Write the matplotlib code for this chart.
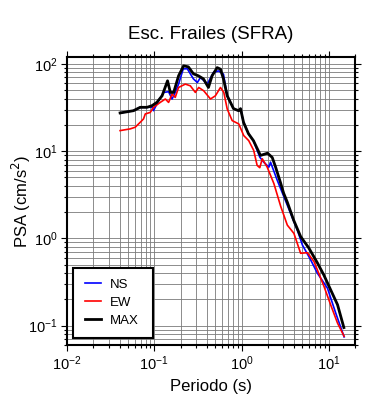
import matplotlib
matplotlib.use('Agg')
import matplotlib.pyplot as plt
from matplotlib.ticker import LogLocator, NullFormatter

plt.rcParams['font.family'] = ['Liberation Sans', 'DejaVu Sans']

# MAX (black)
per_max = [0.0406, 0.0578, 0.069, 0.0824, 0.0942, 0.107, 0.123, 0.142, 0.153, 0.167,
           0.190, 0.217, 0.246, 0.281, 0.321, 0.366, 0.418, 0.46, 0.526, 0.574,
           0.621, 0.686, 0.81, 0.925, 0.975, 1.055, 1.20, 1.37, 1.65, 1.99,
           2.25, 2.46, 2.81, 3.04, 3.35, 3.96, 4.76, 5.89, 7.41, 8.77,
           10.5, 12.6, 14.9]
psa_max = [27.4, 29.1, 31.8, 31.8, 33.2, 36.2, 43.1, 64.0, 47.1, 47.1,
           73.0, 95.0, 92.5, 77.0, 73.0, 67.4, 53.7, 73.0, 90.7, 87.0,
           67.4, 43.1, 30.7, 29.1, 30.7, 21.4, 15.9, 13.2, 8.93, 9.48,
           8.47, 6.56, 4.3, 3.3, 2.6, 1.62, 1.05, 0.78, 0.524, 0.382,
           0.258, 0.174, 0.095]

# NS (blue)
per_ns = [0.0406, 0.0578, 0.069, 0.0824, 0.0942, 0.098, 0.112, 0.128, 0.146, 0.160,
          0.174, 0.190, 0.215, 0.239, 0.281, 0.312, 0.338, 0.406, 0.476, 0.545,
          0.621, 0.686, 0.81, 0.925, 0.975, 1.055, 1.20, 1.37, 1.62, 1.80,
          2.06, 2.15, 2.57, 3.35, 4.37, 4.99, 6.21, 7.41, 9.66, 12.0,
          15.0]
psa_ns = [27.4, 29.1, 31.8, 31.8, 32.0, 29.1, 37.8, 47.1, 48.0, 39.6,
          47.1, 58.7, 87.7, 88.0, 67.4, 61.2, 69.8, 59.1, 79.6, 83.2,
          76.3, 43.1, 30.7, 29.1, 30.7, 21.4, 15.9, 13.2, 8.53, 7.48,
          6.56, 7.48, 4.63, 2.4, 1.24, 0.84, 0.566, 0.399, 0.269, 0.140,
          0.0743]

# EW (red)
per_ew = [0.0406, 0.053, 0.0605, 0.069, 0.0753, 0.0789, 0.09, 0.098, 0.117, 0.134,
          0.146, 0.160, 0.174, 0.190, 0.227, 0.259, 0.296, 0.323, 0.369, 0.441,
          0.502, 0.574, 0.627, 0.686, 0.782, 0.931, 1.06, 1.21, 1.38, 1.51,
          1.62, 1.73, 1.97, 2.35, 2.81, 3.35, 3.99, 4.76, 5.69, 6.78,
          8.83, 10.5, 12.6, 15.0]
psa_ew = [17.2, 18.0, 18.8, 21.4, 23.4, 26.7, 27.8, 31.8, 36.2, 39.6,
          36.2, 45.1, 41.3, 53.7, 58.7, 56.1, 47.1, 53.7, 49.2, 39.6,
          43.1, 53.7, 47.1, 30.4, 22.4, 20.5, 15.1, 13.2, 10.2, 6.87,
          6.46, 8.18, 6.56, 4.25, 2.34, 1.42, 1.14, 0.675, 0.686, 0.542,
          0.281, 0.174, 0.107, 0.0755]

fig = plt.figure(figsize=(3.9, 4.0), dpi=100)
ax = fig.add_axes([0.1718, 0.1375, 0.7385, 0.72])

ax.plot(per_ns, psa_ns, color='blue', lw=1.2, label='NS')
ax.plot(per_ew, psa_ew, color='red', lw=1.2, label='EW')
ax.plot(per_max, psa_max, color='black', lw=2.0, label='MAX')

ax.set_xscale('log')
ax.set_yscale('log')
ax.set_xlim(0.01, 20)
ax.set_ylim(0.06, 120)

for axis in (ax.xaxis, ax.yaxis):
    axis.set_major_locator(LogLocator(base=10, numticks=10))
    axis.set_minor_locator(LogLocator(base=10, subs=range(2, 10), numticks=20))
    axis.set_minor_formatter(NullFormatter())

ax.grid(True, which='both', color='#7a7a7a', lw=0.6)
ax.set_axisbelow(True)
ax.tick_params(which='both', direction='out', top=True, right=True, width=0.8)
ax.tick_params(which='major', length=4, labelsize=10.5, pad=3)
ax.tick_params(which='minor', length=2.2)
for s in ax.spines.values():
    s.set_linewidth(1.5)

ax.set_xlabel('Periodo (s)', fontsize=12, labelpad=4)
ax.set_ylabel('PSA (cm/s$^2$)', fontsize=12)
ax.yaxis.set_label_coords(-0.118, 0.5)
ax.set_title('Esc. Frailes (SFRA)', fontsize=13.5, pad=13)

leg = ax.legend(loc='lower left', bbox_to_anchor=(0.022, 0.025, 0.278, 0.1), mode='expand',
                fancybox=False, edgecolor='black', framealpha=1, fontsize=9.5,
                borderpad=0.85, labelspacing=0.42, handlelength=1.25, handletextpad=0.7,
                borderaxespad=0)
leg.get_frame().set_linewidth(1.5)

fig.savefig('out.png', dpi=100)
